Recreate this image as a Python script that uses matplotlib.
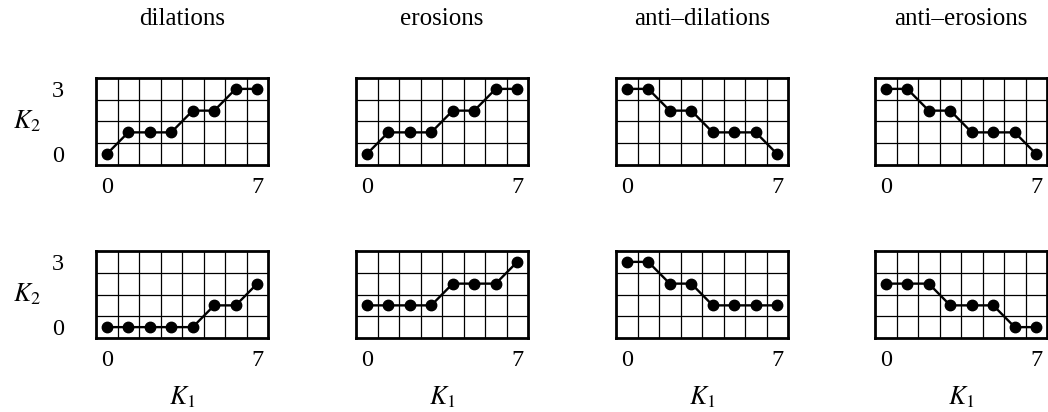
import matplotlib
matplotlib.use("Agg")
import matplotlib.pyplot as plt

plt.rcParams["font.family"] = ["Liberation Serif", "DejaVu Serif"]
plt.rcParams["mathtext.fontset"] = "stix"

titles = ["dilations", "erosions", "anti\u2013dilations", "anti\u2013erosions"]
k1 = [0, 1, 2, 3, 4, 5, 6, 7]

top_dilation = [0, 1, 1, 1, 2, 2, 3, 3]
top_erosion = [0, 1, 1, 1, 2, 2, 3, 3]
top_anti_dilation = [3, 3, 2, 2, 1, 1, 1, 0]
top_anti_erosion = [3, 3, 2, 2, 1, 1, 1, 0]

bottom_dilation = [0, 0, 0, 0, 0, 1, 1, 2]
bottom_erosion = [1, 1, 1, 1, 2, 2, 2, 3]
bottom_anti_dilation = [3, 3, 2, 2, 1, 1, 1, 1]
bottom_anti_erosion = [2, 2, 2, 1, 1, 1, 0, 0]

rows = [
    [top_dilation, top_erosion, top_anti_dilation, top_anti_erosion],
    [bottom_dilation, bottom_erosion, bottom_anti_dilation, bottom_anti_erosion],
]

x_ticks = [0, 7]
y_ticks = [0, 3]

W, H = 1048, 412
fig = plt.figure(figsize=(W / 100, H / 100), dpi=100)

lefts = [96, 356, 616, 875]
panel_w = 172
row_tops = [78, 251]
panel_h = 87
fs = 17.5
title_fs = 18

for r, series_row in enumerate(rows):
    for c, values in enumerate(series_row):
        left = lefts[c]
        top = row_tops[r]
        ax = fig.add_axes([left / W, 1 - (top + panel_h) / H, panel_w / W, panel_h / H])
        ax.set_xlim(-0.5, 7.5)
        ax.set_ylim(-0.5, 3.5)
        for gx in range(1, 8):
            ax.axvline(gx - 0.5, color="black", lw=0.9, zorder=1)
        for gy in range(1, 4):
            ax.axhline(gy - 0.5, color="black", lw=0.9, zorder=1)
        ax.plot(k1, values, color="black", lw=1.7, marker="o", ms=7.5,
                zorder=3, clip_on=False)
        for s in ax.spines.values():
            s.set_linewidth(2.0)
        ax.set_xticks(x_ticks)
        ax.set_xticklabels([str(t) for t in x_ticks], fontsize=fs)
        ax.tick_params(axis="x", length=0, pad=9)
        if c == 0:
            ax.set_yticks(y_ticks)
            ax.set_yticklabels([str(t) for t in y_ticks], fontsize=fs,
                               va="center_baseline")
            ax.tick_params(axis="y", length=0, pad=23)
            ax.set_ylabel("$K_2$", fontsize=fs + 1, rotation=0, labelpad=18,
                          va="center")
        else:
            ax.set_yticks([])
        if r == 0:
            ax.set_title(titles[c], fontsize=title_fs, pad=38)
        else:
            ax.set_xlabel("$K_1$", fontsize=fs + 1, labelpad=9)

fig.savefig("out.png", dpi=100)
